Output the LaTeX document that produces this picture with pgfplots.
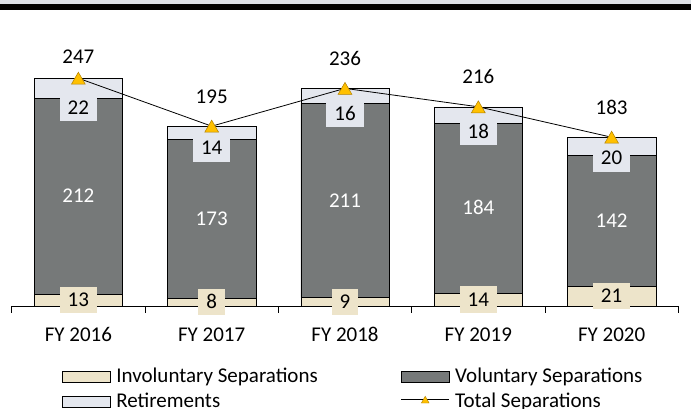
\documentclass[border=0pt]{standalone}
\usepackage{pgfplots}
\pgfplotsset{compat=1.18}
\usepackage{fontspec}
\setmainfont{Carlito}
\definecolor{invcol}{HTML}{EDE4CA}
\definecolor{volcol}{HTML}{767979}
\definecolor{retcol}{HTML}{E4E7EE}
\definecolor{mkcol}{HTML}{FFC000}
\definecolor{mkedge}{HTML}{B07F00}
\definecolor{bandcol}{HTML}{DCE0E6}
\newcommand{\lab}{\fontsize{21pt}{25pt}\selectfont}
\pgfplotsset{
  common/.style={
    at={(11.7pt,103pt)}, anchor=south west,
    scale only axis, width=666.6pt, height=258.2pt,
    xmin=-0.5, xmax=4.5, ymin=0, ymax=280,
    enlargelimits=false, clip=false,
  },
  boxleg/.style={legend image code/.code={\draw[##1] (0pt,-5.5pt) rectangle (48pt,5.5pt);}},
  totleg/.style={legend image code/.code={\path (0pt,-5.5pt) (48pt,5.5pt);
    \draw[##1] (0pt,2.5pt) -- (48pt,2.5pt);
    \draw[##1, mark size=4.5pt, mark options={fill=mkcol, draw=mkedge, line width=0.4pt, yshift=-1.1pt}] plot coordinates {(24pt,2.5pt)};}},
}
\begin{document}
\begin{tikzpicture}[x=1pt,y=1pt]
\useasboundingbox (0,0) rectangle (691,409);
\fill[bandcol] (0,404.6) rectangle (691,409);
\fill[black] (0,399.3) rectangle (691,404.6);
% bars
\begin{axis}[common,
  ybar stacked, bar width=0.663,
  axis x line*=bottom, axis y line=none,
  x axis line style={-, black, line width=0.8pt},
  xtick={0,1,2,3,4},
  xticklabels={FY 2016,FY 2017,FY 2018,FY 2019,FY 2020},
  major tick length=0pt,
  minor xtick={-0.5,0.5,1.5,2.5,3.5,4.5},
  minor tick length=7pt, tick align=outside,
  minor tick style={black, line width=0.8pt},
  xticklabel style={font=\lab, anchor=base, yshift=-36pt, inner sep=0pt},
  ytick=\empty,
]
\addplot[fill=invcol, draw=black, line width=0.6pt] coordinates {(0,13) (1,8) (2,9) (3,14) (4,21)};
\addplot[fill=volcol, draw=black, line width=0.6pt] coordinates {(0,212) (1,173) (2,211) (3,184) (4,142)};
\addplot[fill=retcol, draw=black, line width=0.6pt] coordinates {(0,22) (1,14) (2,16) (3,18) (4,20)};
\end{axis}
% labels, total line, legend
\begin{axis}[common, hide axis,
  legend columns=2,
  legend cell align=left,
  legend style={at={(0.0755,-0.2401)}, anchor=north west, draw=none, fill=none,
    inner sep=0pt, font=\lab, row sep=7pt,
    nodes={inner sep=0pt, text height=14pt, text depth=4pt},
    /tikz/every odd column/.append style={column sep=5.5pt},
    /tikz/every even column/.append style={column sep=83pt}},
]
\addplot[forget plot, draw=none, mark=none, nodes near coords, point meta=explicit symbolic,
  nodes near coords style={anchor=center, font=\lab, fill=invcol, text=black,
    inner xsep=8pt, inner ysep=6.5pt, text height=13.3pt, text depth=0pt}]
  table[meta=l] {
x y l
0 6.5 13
1 4 8
2 4.5 9
3 7 14
4 10.5 21
};
\addplot[forget plot, draw=none, mark=none, nodes near coords, point meta=explicit symbolic,
  nodes near coords style={anchor=center, font=\lab, text=white,
    inner sep=0pt, text height=13.3pt, text depth=0pt}]
  table[meta=l] {
x y l
0 119 212
1 94.5 173
2 114.5 211
3 106 184
4 92 142
};
\addplot[forget plot, draw=none, mark=none, nodes near coords, point meta=explicit symbolic,
  nodes near coords style={anchor=center, font=\lab, fill=retcol, text=black,
    inner xsep=8pt, inner ysep=7pt, text height=13.3pt, text depth=0pt}]
  table[meta=l] {
x y l
0 215.1 22
1 171.4 14
2 208.9 16
3 189.0 18
4 160.2 20
};
\addplot[forget plot, draw=none, mark=none, nodes near coords, point meta=explicit symbolic,
  nodes near coords style={anchor=base, font=\lab, text=black, inner sep=0pt}]
  table[meta=l] {
x y l
0 263.2 247
1 219.1 195
2 260.5 236
3 241.0 216
4 208.2 183
};
\addlegendimage{boxleg, fill=invcol, draw=black, line width=0.6pt}
\addlegendentry{Involuntary Separations}
\addlegendimage{boxleg, fill=volcol, draw=black, line width=0.6pt}
\addlegendentry{Voluntary Separations}
\addlegendimage{boxleg, fill=retcol, draw=black, line width=0.6pt}
\addlegendentry{Retirements}
\addplot[totleg, black, line width=0.8pt, mark=triangle*, mark size=8pt,
  mark options={fill=mkcol, draw=mkedge, line width=0.5pt, yshift=-2pt}]
  coordinates {(0,247) (1,195) (2,236) (3,216) (4,183)};
\addlegendentry{Total Separations}
\end{axis}
\end{tikzpicture}
\end{document}
